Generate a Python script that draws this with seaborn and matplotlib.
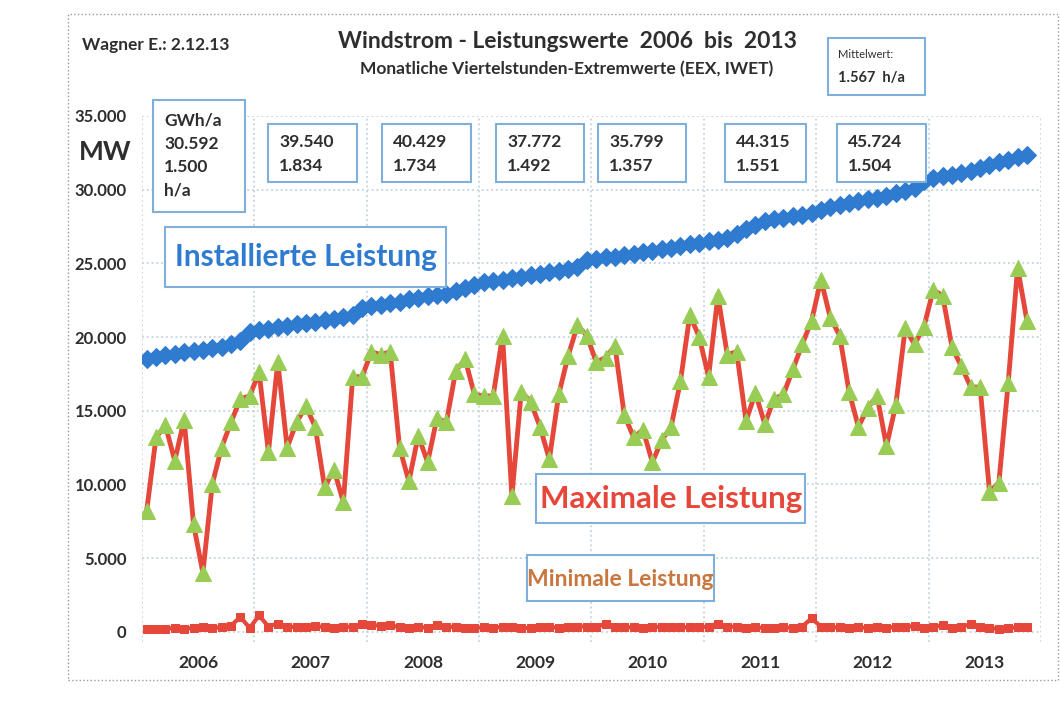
import numpy as np
import pandas as pd
import matplotlib.pyplot as plt
import seaborn as sns
from matplotlib.patches import Rectangle

# Monatswerte Jan 2006 - Nov 2013 (MW)
installiert = [18500, 18650, 18750, 18850, 18950, 19050, 19150, 19250, 19350, 19500, 19700, 20350,
               20450, 20550, 20650, 20750, 20850, 20950, 21050, 21150, 21250, 21350, 21500, 21950,
               22100, 22200, 22300, 22400, 22550, 22650, 22750, 22850, 22950, 23100, 23300, 23550,
               23700, 23800, 23900, 24000, 24100, 24200, 24300, 24400, 24500, 24600, 24750, 25200,
               25300, 25400, 25450, 25550, 25650, 25750, 25850, 25950, 26050, 26150, 26300, 26400,
               26500, 26600, 26750, 27000, 27300, 27600, 27850, 28000, 28100, 28200, 28300, 28400,
               28600, 28800, 28950, 29100, 29200, 29350, 29450, 29600, 29750, 29900, 30100, 30600,
               30800, 30900, 31000, 31150, 31300, 31500, 31650, 31850, 32000, 32200, 32350]

maximal = [8200, 13200, 14000, 11600, 14400, 7300, 4000, 10000, 12500, 14200, 15800, 16000,
           17600, 12200, 18300, 12500, 14200, 15300, 13900, 9800, 11000, 8800, 17300, 17300,
           19000, 18800, 19000, 12500, 10200, 13300, 11500, 14500, 14200, 17700, 18500, 16100,
           16000, 16000, 20100, 9200, 16300, 15600, 13900, 11700, 16100, 18700, 20800, 20100,
           18300, 18600, 19400, 14700, 13200, 13700, 11500, 13000, 13900, 17000, 21500, 20000,
           17300, 22800, 18800, 19000, 14300, 16200, 14100, 15800, 16100, 17800, 19500, 21100,
           23900, 21300, 20100, 16300, 13900, 15200, 16000, 12600, 15400, 20600, 19500, 20700,
           23200, 22800, 19300, 18000, 16600, 16600, 9500, 10100, 16900, 24700, 21100]

minimal = [200, 150, 200, 250, 200, 250, 300, 250, 300, 400, 1000, 250,
           1100, 350, 550, 350, 300, 350, 400, 300, 250, 300, 350, 500,
           450, 400, 450, 300, 250, 350, 250, 450, 300, 350, 250, 250,
           300, 250, 350, 300, 250, 250, 300, 350, 250, 300, 350, 350,
           300, 550, 350, 300, 300, 250, 350, 300, 350, 300, 300, 300,
           350, 550, 300, 350, 250, 300, 250, 250, 300, 250, 350, 900,
           350, 300, 300, 250, 300, 250, 300, 250, 350, 300, 400, 250,
           300, 450, 250, 350, 500, 300, 250, 200, 250, 300, 300]

jahre = ['2006', '2007', '2008', '2009', '2010', '2011', '2012', '2013']
y_ticks = [0, 5000, 10000, 15000, 20000, 25000, 30000, 35000]
y_labels = ['0', '5.000', '10.000', '15.000', '20.000', '25.000', '30.000', '35.000']

# Jahreskaesten: GWh/a und Volllaststunden h/a
box_gwh = ['30.592', '39.540', '40.429', '37.772', '35.799', '44.315', '45.724']
box_h = ['1.500', '1.834', '1.734', '1.492', '1.357', '1.551', '1.504']

sns.set_theme(style='white')
plt.rcParams['font.family'] = ['Lato', 'DejaVu Sans']

blau = '#2f7bd0'
rot = '#e5473a'
gruen = '#98cc55'
braun = '#c8773f'
rahmen = '#7fb0dc'
grau = '#2e2e2e'

W, H = 1060, 702
def px(x, y):
    return x / W, 1 - y / H

fig = plt.figure(figsize=(W / 100, H / 100), dpi=100)
ax = fig.add_axes([142 / W, 1 - 642 / H, (1041 - 142) / W, (642 - 116) / H])

df = pd.DataFrame({'monat': np.arange(len(maximal)),
                   'inst': installiert, 'max': maximal, 'min': minimal})

sns.lineplot(data=df, x='monat', y='min', ax=ax, color=rot, lw=3,
             marker='s', markersize=6, markeredgecolor=rot)
sns.lineplot(data=df, x='monat', y='max', ax=ax, color=rot, lw=3.5,
             marker='^', markersize=12, markerfacecolor=gruen, markeredgecolor=gruen)
sns.lineplot(data=df, x='monat', y='inst', ax=ax, color=blau, lw=3,
             marker='D', markersize=9, markeredgecolor=blau)

ax.set_xlim(-0.5, 95.5)
ax.set_ylim(-700, 35000)
ax.set_yticks(y_ticks)
ax.set_yticklabels(y_labels, fontsize=12, fontweight='bold', color=grau)
ax.set_xticks(np.arange(len(jahre)) * 12 + 5.5)
ax.set_xticklabels(jahre, fontsize=12.5, fontweight='bold', color=grau)
ax.set_xticks(np.arange(-0.5, 96, 12), minor=True)
ax.tick_params(axis='both', which='both', length=0)
ax.tick_params(axis='y', pad=11)
ax.tick_params(axis='x', pad=9)
ax.set_xlabel('')
ax.set_ylabel('')
ax.grid(axis='y', which='major', color='#c3d3df', ls=':', lw=1.3)
ax.grid(axis='x', which='minor', color='#c3d3df', ls=':', lw=1.3)
ax.grid(axis='x', which='major', visible=False)
for s in ax.spines.values():
    s.set_visible(False)

# Aussenrahmen
fig.patches.append(Rectangle(px(68, 680), (1058 - 68) / W, (680 - 14) / H,
                             transform=fig.transFigure, fill=False,
                             ec='#9a9a9a', lw=1, ls=':'))

def kasten(x0, y0, x1, y1):
    fig.patches.append(Rectangle(px(x0, y1), (x1 - x0) / W, (y1 - y0) / H,
                                 transform=fig.transFigure, fc='white',
                                 ec=rahmen, lw=1.5, zorder=5))

fig.text(*px(82, 45), 'Wagner E.: 2.12.13', fontsize=12.5, fontweight='bold',
         color=grau, va='center', ha='left')
fig.text(*px(567, 41), 'Windstrom - Leistungswerte  2006  bis  2013', fontsize=16.5,
         fontweight='bold', color=grau, va='center', ha='center')
fig.text(*px(567, 69), 'Monatliche Viertelstunden-Extremwerte (EEX, IWET)', fontsize=12.5,
         fontweight='bold', color=grau, va='center', ha='center')

kasten(828, 38, 925, 95)
fig.text(*px(838, 55), 'Mittelwert:', fontsize=8, color=grau, va='center', zorder=6)
fig.text(*px(838, 78), '1.567  h/a', fontsize=10.5, fontweight='bold', color=grau,
         va='center', zorder=6)

fig.text(*px(105, 152), 'MW', fontsize=19, fontweight='bold', color=grau,
         va='center', ha='center')

# Jahreskaesten
kasten(153, 100, 245, 212)
for i, t in enumerate(['GWh/a', box_gwh[0], box_h[0], 'h/a']):
    fig.text(*px(164, 121 + i * 23), t, fontsize=12.5, fontweight='bold', color=grau,
             va='center', zorder=6)

kasten_x = [(268, 357), (382, 471), (496, 584), (598, 686), (725, 806), (837, 926)]
for (x0, x1), g, h in zip(kasten_x, box_gwh[1:], box_h[1:]):
    kasten(x0, 124, x1, 182)
    fig.text(*px(x0 + 11, 142), g, fontsize=12.5, fontweight='bold', color=grau,
             va='center', zorder=6)
    fig.text(*px(x0 + 11, 166), h, fontsize=12.5, fontweight='bold', color=grau,
             va='center', zorder=6)

# Reihenbeschriftungen
kasten(165, 227, 446, 287)
fig.text(*px(306, 257), 'Installierte Leistung', fontsize=21.5, fontweight='bold',
         color=blau, va='center', ha='center', zorder=6)
kasten(536, 474, 805, 523)
fig.text(*px(671, 499), 'Maximale Leistung', fontsize=22.5, fontweight='bold',
         color=rot, va='center', ha='center', zorder=6)
kasten(527, 555, 714, 601)
fig.text(*px(620, 579), 'Minimale Leistung', fontsize=16.5, fontweight='bold',
         color=braun, va='center', ha='center', zorder=6)

fig.savefig('out.png', dpi=100)
